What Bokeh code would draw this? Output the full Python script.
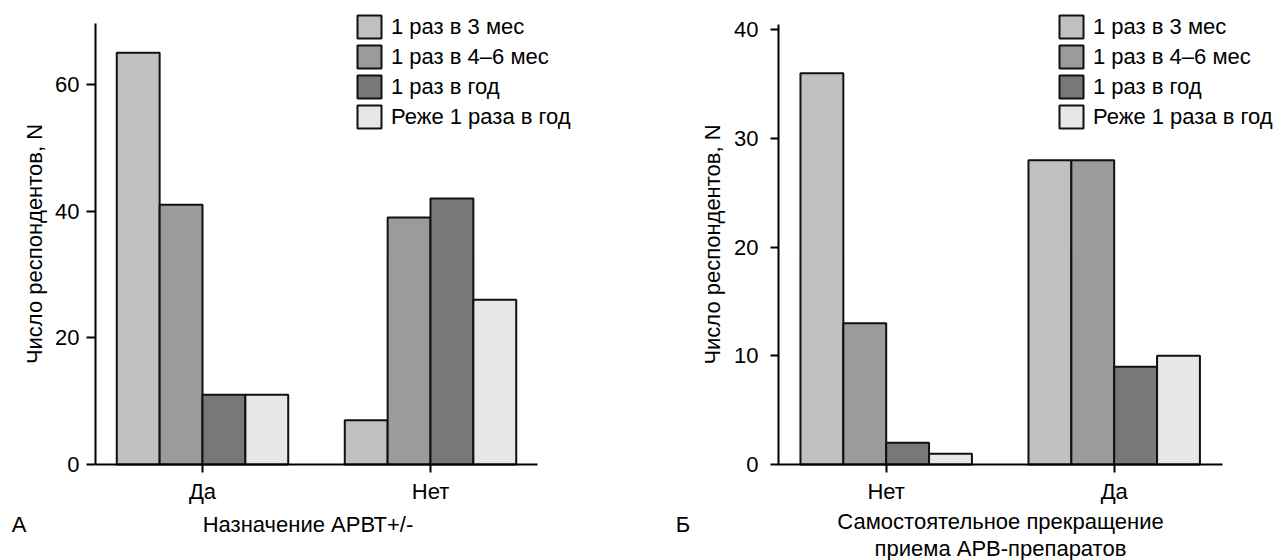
from bokeh.plotting import figure
from bokeh.models import Range1d, FixedTicker, ColumnDataSource
from bokeh.core.properties import value
from bokeh.layouts import row
from bokeh.transform import dodge
from bokeh.embed import file_html
from bokeh.resources import INLINE

# ---- data ----
series_names = ["1 раз в 3 мес", "1 раз в 4–6 мес", "1 раз в год", "Реже 1 раза в год"]

a_categories = ["Да", "Нет"]
a_3mes = [65, 7]
a_4_6mes = [41, 39]
a_god = [11, 42]
a_rezhe = [11, 26]

b_categories = ["Нет", "Да"]
b_3mes = [36, 28]
b_4_6mes = [13, 28]
b_god = [2, 9]
b_rezhe = [1, 10]

a_yticks = [0, 20, 40, 60]
b_yticks = [0, 10, 20, 30, 40]

y_label = "Число респондентов, N"
a_xlabel = ["Назначение АРВТ+/-"]
b_xlabel = ["Самостоятельное прекращение", "приема АРВ-препаратов"]
a_letter = "А"
b_letter = "Б"

# ---- style ----
FONT = "Liberation Sans"
FS = "22px"
colors = ["#c0c0c0", "#9b9b9b", "#787878", "#e7e7e7"]
BAR_W = 0.188
offsets = [-1.5 * BAR_W, -0.5 * BAR_W, 0.5 * BAR_W, 1.5 * BAR_W]


def panel(cats, series, yticks, x_rng, x_bounds, y_rng, y_bounds, width,
          tick_out, tick_standoff, label_standoff, legend_loc,
          xlabels, xlabel_x, xlabel_ys, letter, letter_x, letter_y):
    pos = [i + 1 for i in range(len(cats))]
    data = {"x": pos}
    for i, s in enumerate(series):
        data[f"s{i}"] = s
    src = ColumnDataSource(data)
    p = figure(width=width, height=560, x_range=Range1d(*x_rng), y_range=Range1d(*y_rng),
               output_backend="svg", toolbar_location=None,
               min_border_left=0, min_border_right=0, min_border_top=0,
               min_border_bottom=0)
    for i in range(len(series)):
        p.vbar(x=dodge("x", offsets[i]), top=f"s{i}", width=BAR_W, source=src,
               fill_color=colors[i], line_color="#111111", line_width=2,
               legend_label=series_names[i])
    p.xgrid.visible = False
    p.ygrid.visible = False
    p.outline_line_color = None
    p.background_fill_color = "white"

    xa = p.xaxis[0]
    xa.fixed_location = 0
    xa.ticker = FixedTicker(ticks=pos)
    xa.major_label_overrides = {v: c for v, c in zip(pos, cats)}
    xa.bounds = x_bounds
    xa.minor_tick_line_color = None
    xa.major_tick_in = 0
    xa.major_tick_out = 8
    xa.major_tick_line_width = 2
    xa.axis_line_width = 2
    xa.axis_line_color = "black"
    xa.major_tick_line_color = "black"
    xa.major_label_text_font = FONT
    xa.major_label_text_font_size = FS
    xa.major_label_text_color = "black"
    xa.major_label_standoff = 6

    ya = p.yaxis[0]
    ya.fixed_location = x_bounds[0]
    ya.ticker = FixedTicker(ticks=yticks)
    ya.bounds = y_bounds
    ya.minor_tick_line_color = None
    ya.major_tick_in = 0
    ya.major_tick_out = tick_out
    ya.major_tick_line_width = 2
    ya.axis_line_width = 2
    ya.axis_line_color = "black"
    ya.major_tick_line_color = "black"
    ya.major_label_text_font = FONT
    ya.major_label_text_font_size = FS
    ya.major_label_text_color = "black"
    ya.major_label_standoff = tick_standoff
    ya.axis_label = y_label
    ya.axis_label_text_font = FONT
    ya.axis_label_text_font_size = FS
    ya.axis_label_text_font_style = "normal"
    ya.axis_label_text_color = "black"
    ya.axis_label_standoff = label_standoff

    lg = p.legend[0]
    lg.location = legend_loc
    lg.padding = 0
    lg.margin = 0
    lg.spacing = 1
    lg.glyph_width = 30
    lg.glyph_height = 29
    lg.label_height = 29
    lg.label_standoff = 7
    lg.label_text_font = FONT
    lg.label_text_font_size = FS
    lg.label_text_color = "black"
    lg.label_text_baseline = "middle"
    lg.border_line_color = None
    lg.background_fill_alpha = 0

    tx = [xlabel_x] * len(xlabels) + [letter_x]
    ty = list(xlabel_ys) + [letter_y]
    tt = list(xlabels) + [letter]
    p.text(x=tx, y=ty, text=tt, text_align="center", text_baseline="alphabetic",
           text_font=value(FONT), text_font_size=value(FS), text_color="black")
    return p


p1 = panel(a_categories, [a_3mes, a_4_6mes, a_god, a_rezhe], a_yticks,
           x_rng=(0.1140, 2.9079), x_bounds=(0.5307, 2.4693), y_rng=(-15.15, 73.24),
           y_bounds=(0, 69.6), width=637, tick_out=9, tick_standoff=7, label_standoff=5,
           legend_loc=(354, 429),
           xlabels=a_xlabel, xlabel_x=1.4627, xlabel_ys=[-9.477],
           letter=a_letter, letter_x=0.1952, letter_y=-9.477)

p2 = panel(b_categories, [b_3mes, b_4_6mes, b_god, b_rezhe], b_yticks,
           x_rng=(-0.0908, 2.7031), x_bounds=(0.5276, 2.475), y_rng=(-8.832, 42.69),
           y_bounds=(0, 40.5), width=637, tick_out=8, tick_standoff=12, label_standoff=6,
           legend_loc=(419, 429),
           xlabels=b_xlabel, xlabel_x=1.5013, xlabel_ys=[-5.244, -7.728],
           letter=b_letter, letter_x=0.1088, letter_y=-5.52)

layout = row(p1, p2)
open("out.html", "w").write(file_html(layout, INLINE))
